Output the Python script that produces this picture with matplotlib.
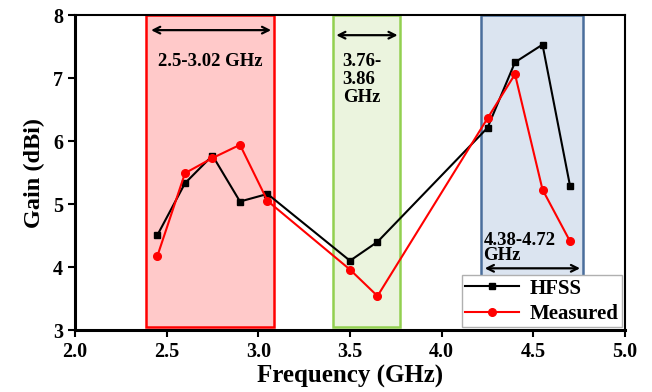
import numpy as np
import matplotlib.pyplot as plt
from matplotlib.patches import Rectangle

plt.rcParams['font.family'] = ['Liberation Serif', 'DejaVu Serif']
plt.rcParams['font.weight'] = 'bold'

freq = [2.45, 2.6, 2.75, 2.9, 3.05, 3.5, 3.65, 4.25, 4.4, 4.55, 4.7]
hfss = [4.51, 5.33, 5.77, 5.04, 5.16, 4.10, 4.40, 6.21, 7.25, 7.53, 5.29]
measured = [4.18, 5.49, 5.73, 5.94, 5.05, 3.96, 3.54, 6.36, 7.06, 5.23, 4.41]

# bands: (x0, x1, y0, y1, face, edge)
bands = [(2.39, 3.085, 3.05, 8.0, '#ffc9c9', '#ff0000'),
         (3.41, 3.775, 3.05, 8.0, '#ebf4de', '#92d050'),
         (4.215, 4.77, 3.82, 8.0, '#dbe4f0', '#4a6e9c')]
arrows = [(2.4, 3.085, 7.76), (3.41, 3.775, 7.68), (4.22, 4.77, 3.98)]

fig = plt.figure(figsize=(6.52, 3.92), dpi=100)
ax = fig.add_axes([0.115, 0.158, 0.8436, 0.8037])

for x0, x1, y0, y1, fc, ec in bands:
    ax.add_patch(Rectangle((x0, y0), x1 - x0, y1 - y0, facecolor=fc,
                           edgecolor=ec, linewidth=1.8, zorder=1))

for x0, x1, y in arrows:
    ax.annotate('', xy=(x0, y), xytext=(x1, y),
                arrowprops=dict(arrowstyle='<->', color='black', lw=1.6,
                                mutation_scale=12), zorder=3)

ax.plot(freq, hfss, color='black', marker='s', markersize=5, lw=1.5,
        label='HFSS', zorder=4)
ax.plot(freq, measured, color='#ff0000', marker='o', markersize=5.5, lw=1.5,
        label='Measured', zorder=5)

ax.text(2.739, 7.27, '2.5-3.02 GHz', ha='center', va='center', fontsize=13.5,
        fontweight='bold', zorder=6)
ax.text(3.46, 7.4, '3.76-\n3.86\nGHz', ha='left', va='top', fontsize=13.5,
        fontweight='bold', linespacing=1.08, zorder=6)
ax.text(4.228, 4.05, '4.38-4.72\nGHz', ha='left', va='bottom', fontsize=13.5,
        fontweight='bold', linespacing=0.85, zorder=6)

ax.set_xlim(2.0, 5.0)
ax.set_ylim(3, 8)
ax.set_xticks([2.0, 2.5, 3.0, 3.5, 4.0, 4.5, 5.0])
ax.set_xticklabels(['2.0', '2.5', '3.0', '3.5', '4.0', '4.5', '5.0'])
ax.set_yticks([3, 4, 5, 6, 7, 8])
ax.tick_params(direction='out', length=5, width=1.5, labelsize=14.5)
for lab in ax.get_xticklabels() + ax.get_yticklabels():
    lab.set_fontweight('bold')
ax.tick_params(top=False, right=False)
for s in ax.spines.values():
    s.set_linewidth(1.5)
ax.spines['left'].set_linewidth(2.2)
ax.spines['bottom'].set_linewidth(2.2)

ax.set_xlabel('Frequency (GHz)', fontsize=18, fontweight='bold', labelpad=2)
ax.set_ylabel('Gain (dBi)', fontsize=17.5, fontweight='bold', labelpad=6)

leg = ax.legend(loc='lower right', fontsize=15, frameon=True, fancybox=False,
                edgecolor='#b0b0b0', framealpha=1, borderpad=0.15,
                handlelength=2.6, handletextpad=0.5, labelspacing=0.25,
                borderaxespad=0.15)
leg.set_zorder(10)
for t in leg.get_texts():
    t.set_fontweight('bold')

fig.savefig('out.png', dpi=100)
